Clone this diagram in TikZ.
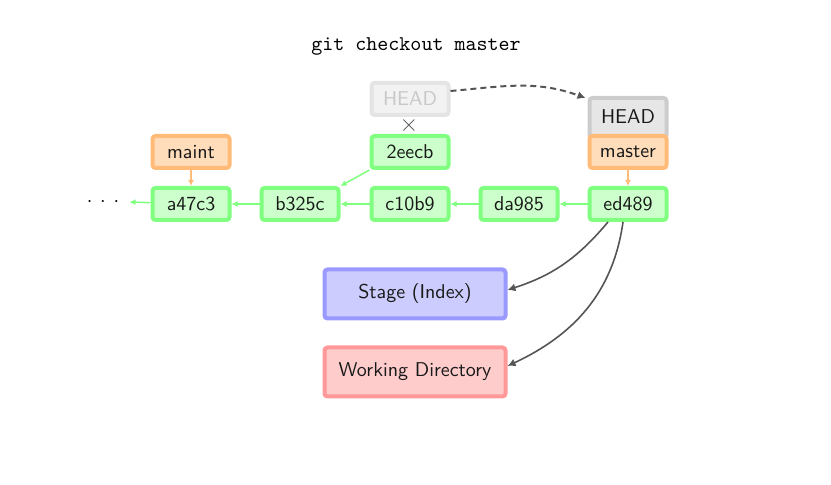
\documentclass[tikz,border=0pt]{standalone}
\usetikzlibrary{arrows.meta}
\definecolor{cfill}{HTML}{CCFFCC}\definecolor{cdraw}{HTML}{80FF80}
\definecolor{bfill}{HTML}{FFDDBB}\definecolor{bdraw}{HTML}{FFBB77}
\definecolor{sfill}{HTML}{CCCCFF}\definecolor{sdraw}{HTML}{9999FF}
\definecolor{wfill}{HTML}{FFCCCC}\definecolor{wdraw}{HTML}{FF9999}
\definecolor{hfill}{HTML}{E6E6E6}\definecolor{hdraw}{HTML}{CCCCCC}
\definecolor{ffill}{HTML}{F2F2F2}\definecolor{fdraw}{HTML}{E4E4E4}\definecolor{ftext}{HTML}{C8C8C8}
\definecolor{dgray}{HTML}{555555}
\begin{document}
\begin{tikzpicture}[x=0.5pt,y=-0.5pt,font=\sffamily,
  box/.style={rounded corners=1.5pt,line width=2pt,minimum width=38.5pt,minimum height=16pt,inner sep=0pt,text=black!90},
  commit/.style={box,fill=cfill,draw=cdraw},
  branch/.style={box,fill=bfill,draw=bdraw},
  headbox/.style={box,fill=hfill,draw=hdraw},
  oldhead/.style={box,fill=ffill,draw=fdraw,text=ftext},
  area/.style={rounded corners=1.5pt,line width=2pt,minimum width=90.5pt,minimum height=24.5pt,inner sep=0pt,text=black!90},
  garrow/.style={draw=cdraw,line width=0.75pt,-{Latex[length=3pt,width=3pt]}},
  barrow/.style={draw=bdraw,line width=0.75pt,-{Latex[length=3pt,width=3pt]}},
  darrow/.style={draw=dgray,line width=0.8pt,-{Latex[length=4pt,width=4pt]}}]
\useasboundingbox (0,0) rectangle (831,485);
\node[font=\ttfamily\fontsize{10.5}{12}\selectfont] (title) at (416,46) {git checkout master};
\node[oldhead] (oldhead) at (410,99) {HEAD};
\node[text=dgray,inner sep=0pt,scale=1.2] (cross) at (409,126) {$\times$};
\node[headbox,minimum height=20pt] (head) at (628,118) {\raisebox{1.5pt}{HEAD}};
\node[commit] (c2eecb) at (410,152) {2eecb};
\node[branch] (maint) at (191,152) {maint};
\node[branch] (master) at (628,152) {master};
\node[commit] (a47c3) at (191,204) {a47c3};
\node[commit] (b325c) at (300,204) {b325c};
\node[commit] (c10b9) at (410,204) {c10b9};
\node[commit] (da985) at (519,204) {da985};
\node[commit] (ed489) at (628,204) {ed489};
\node[inner sep=1pt] (dots) at (103,202) {$\cdot\,\cdot\,\cdot$};
\node[area,fill=sfill,draw=sdraw] (stage) at (415,294) {Stage (Index)};
\node[area,fill=wfill,draw=wdraw] (wd) at (415,372) {Working Directory};
\draw[garrow] (ed489) -- (da985);
\draw[garrow] (da985) -- (c10b9);
\draw[garrow] (c10b9) -- (b325c);
\draw[garrow] (b325c) -- (a47c3);
\draw[garrow] (a47c3) -- ([xshift=4pt]dots.east);
\draw[garrow] (c2eecb.south west) -- (b325c.north east);
\draw[barrow] (maint) -- (a47c3);
\draw[barrow] (master) -- (ed489);
\draw[darrow,dash pattern=on 3pt off 2pt,line width=1pt] (oldhead.east) ++(0,-8) to[out=5,in=160] ([xshift=-1pt,yshift=-1pt]head.north west);
\draw[darrow] ([xshift=-10pt]ed489.south) to[out=-130,in=18] ([yshift=2pt]stage.east);
\draw[darrow] ([xshift=-2.5pt]ed489.south) to[out=-98,in=25] ([yshift=3pt]wd.east);
\end{tikzpicture}
\end{document}
